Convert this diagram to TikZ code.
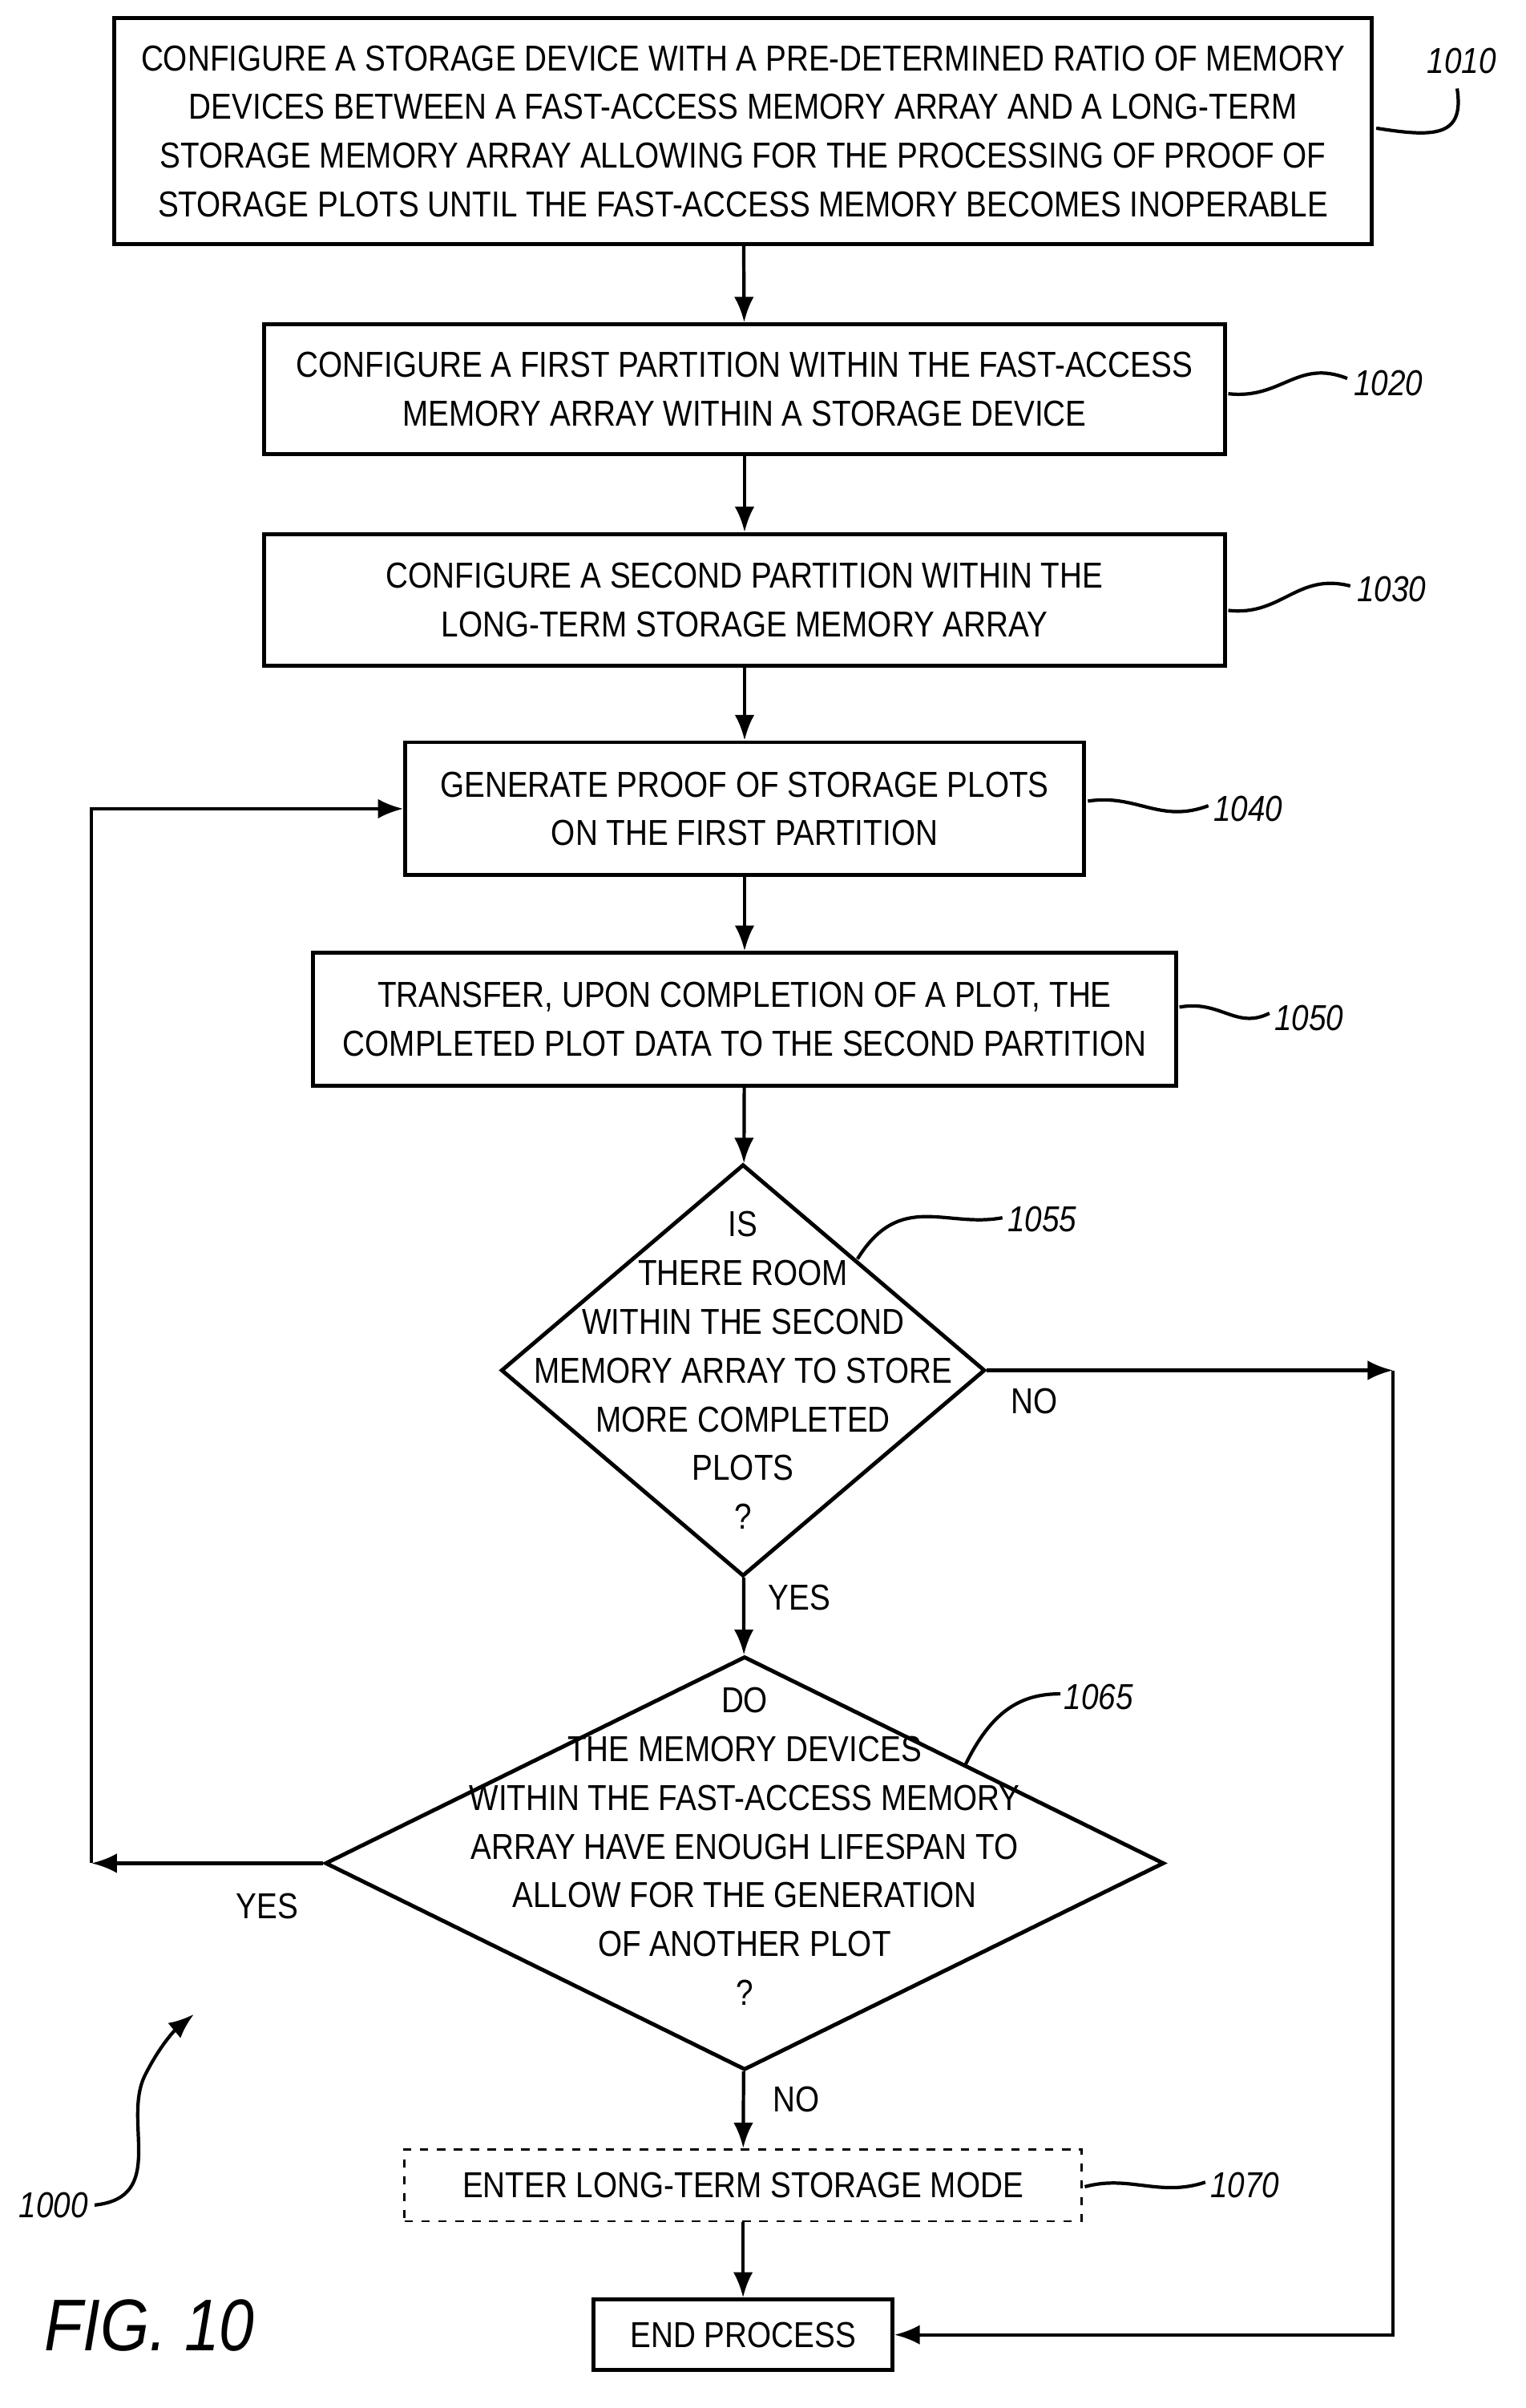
\documentclass[tikz,border=0pt]{standalone}
\usepackage{fontspec}
\setmainfont[FakeStretch=0.86]{Liberation Sans}
\usetikzlibrary{arrows.meta,shapes.geometric}

\tikzset{
  stage/.style={draw, line width=1.4pt, align=center, font=\fontsize{12.8}{17.3}\selectfont, inner sep=0pt},
  query/.style={draw, diamond, line width=1.4pt, inner sep=0pt},
  asking/.style={align=center, font=\fontsize{12.8}{17.3}\selectfont, inner sep=0pt},
  flow/.style={line width=1.2pt, -{Latex[length=9pt,width=7pt]}},
  tag/.style={font=\fontsize{12.8}{16}\selectfont\itshape},
  lead/.style={line width=1.2pt},
  answer/.style={font=\fontsize{12.8}{16}\selectfont}
}

\begin{document}
\begin{tikzpicture}[x=0.01904cm, y=-0.01904cm]
  \useasboundingbox (0,0) rectangle (1000,1578);

  % boxes
  \node[stage, minimum width=15.7cm, minimum height=2.82cm] (s1010) at (487,86)
    {CONFIGURE A STORAGE DEVICE WITH A PRE-DETERMINED RATIO OF MEMORY\\DEVICES BETWEEN A FAST-ACCESS MEMORY ARRAY AND A LONG-TERM\\STORAGE MEMORY ARRAY ALLOWING FOR THE PROCESSING OF PROOF OF\\STORAGE PLOTS UNTIL THE FAST-ACCESS MEMORY BECOMES INOPERABLE};
  \node[stage, minimum width=12.0cm, minimum height=1.62cm] (s1020) at (488,255)
    {CONFIGURE A FIRST PARTITION WITHIN THE FAST-ACCESS\\MEMORY ARRAY WITHIN A STORAGE DEVICE};
  \node[stage, minimum width=12.0cm, minimum height=1.64cm] (s1030) at (488,393)
    {CONFIGURE A SECOND PARTITION WITHIN THE\\LONG-TERM STORAGE MEMORY ARRAY};
  \node[stage, minimum width=8.47cm, minimum height=1.66cm] (s1040) at (488,530)
    {GENERATE PROOF OF STORAGE PLOTS\\ON THE FIRST PARTITION};
  \node[stage, minimum width=10.78cm, minimum height=1.66cm] (s1050) at (488,668)
    {TRANSFER, UPON COMPLETION OF A PLOT, THE\\COMPLETED PLOT DATA TO THE SECOND PARTITION};
  \node[query, minimum width=6.04cm, minimum height=5.14cm] (q1055) at (487,898) {};
  \node[asking] (w1055) at (487,898)
    {IS\\THERE ROOM\\WITHIN THE SECOND\\MEMORY ARRAY TO STORE\\MORE COMPLETED\\PLOTS\\?};
  \node[query, minimum width=10.47cm, minimum height=5.16cm] (q1065) at (488,1221) {};
  \node[asking] (w1065) at (488,1210)
    {DO\\THE MEMORY DEVICES\\WITHIN THE FAST-ACCESS MEMORY\\ARRAY HAVE ENOUGH LIFESPAN TO\\ALLOW FOR THE GENERATION\\OF ANOTHER PLOT\\?};
  \node[stage, dashed, line width=0.8pt, minimum width=8.45cm, minimum height=0.9cm] (s1070) at (487,1432)
    {ENTER LONG-TERM STORAGE MODE};
  \node[stage, minimum width=3.73cm, minimum height=0.88cm] (s1080) at (487,1530)
    {END PROCESS};

  % connectors
  \draw[flow] (s1010) -- (s1020);
  \draw[flow] (s1020) -- (s1030);
  \draw[flow] (s1030) -- (s1040);
  \draw[flow] (s1040) -- (s1050);
  \draw[flow] (s1050) -- (q1055);
  \draw[flow] (q1055) -- (q1065);
  \draw[flow] (q1065) -- (s1070);
  \draw[flow] (s1070) -- (s1080);
  \coordinate (yesL) at (60,1221);
  \coordinate (noR) at (913,898);
  \draw[flow] (q1065.west) -- (yesL);
  \draw[flow] (yesL) |- (s1040.west);
  \draw[flow] (q1055.east) -- (noR);
  \draw[flow] (noR) |- (s1080.east);

  % answers
  \node[answer] (a1) at (678,918) {NO};
  \node[answer] (a2) at (524,1047) {YES};
  \node[answer] (a3) at (175,1249) {YES};
  \node[answer] (a4) at (522,1376) {NO};

  % reference numerals
  \node[tag] (t1010) at (958,40) {1010};
  \draw[lead] (902,84) .. controls (940,90) and (960,90) .. (955,58);
  \node[tag] (t1020) at (910,251) {1020};
  \draw[lead] (805,258) .. controls (840,262) and (850,235) .. (883,248);
  \node[tag] (t1030) at (912,386) {1030};
  \draw[lead] (805,400) .. controls (840,404) and (850,375) .. (885,384);
  \node[tag] (t1040) at (818,530) {1040};
  \draw[lead] (713,525) .. controls (745,520) and (760,540) .. (792,528);
  \node[tag] (t1050) at (858,667) {1050};
  \draw[lead] (773,660) .. controls (800,655) and (810,675) .. (832,664);
  \node[tag] (t1055) at (683,799) {1055};
  \draw[lead] (562,825) .. controls (590,780) and (620,805) .. (657,798);
  \node[tag] (t1065) at (720,1112) {1065};
  \draw[lead] (632,1158) .. controls (650,1120) and (670,1110) .. (695,1110);
  \node[tag] (t1070) at (816,1432) {1070};
  \draw[lead] (711,1433) .. controls (740,1425) and (760,1440) .. (790,1430);
  \node[tag] (t1000) at (35,1445) {1000};
  \draw[lead, -{Latex[length=9pt,width=7pt]}] (62,1445) .. controls (110,1440) and (80,1390) .. (95,1360) .. controls (105,1340) and (115,1330) .. (127,1320);
  \node[font=\fontsize{26}{30}\selectfont\itshape] (fig) at (98,1524) {FIG. 10};
\end{tikzpicture}
\end{document}
